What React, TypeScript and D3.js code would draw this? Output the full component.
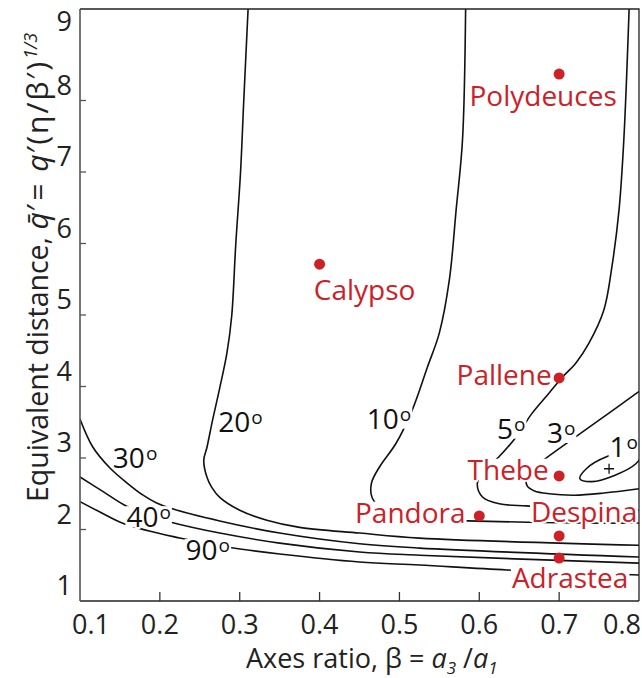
import { useEffect, useRef } from "react";
import * as d3 from "d3";

const WIDTH = 642;
const HEIGHT = 678;
const FONT = "'Open Sans', 'Noto Sans', sans-serif";
const RED = "#cd2027";

// Axis ticks
const xTickValues = [0.1, 0.2, 0.3, 0.4, 0.5, 0.6, 0.7, 0.8];
const yTickValues = [1, 2, 3, 4, 5, 6, 7, 8, 9];

// Satellites: axes ratio beta and equivalent distance q
const moonNames = ["Polydeuces", "Calypso", "Pallene", "Thebe", "Pandora", "Despina", "Adrastea"];
const moonBeta = [0.7, 0.4, 0.7, 0.7, 0.6, 0.7, 0.7];
const moonQ = [8.37, 5.71, 4.12, 2.75, 2.19, 1.91, 1.6];

// Contours of equal angle, as [beta, q] samples
const contour90: [number, number][] = [
  [0.1, 2.39], [0.125, 2.245], [0.156, 2.077], [0.225, 1.88], [0.284, 1.755],
  [0.35, 1.657], [0.45, 1.545], [0.525, 1.503], [0.635, 1.434], [0.8, 1.364],
];
const contour40: [number, number][] = [
  [0.1, 2.734], [0.129, 2.53], [0.156, 2.34], [0.184, 2.2], [0.2125, 2.105],
  [0.275, 1.95], [0.35, 1.81], [0.45, 1.685], [0.525, 1.64], [0.8, 1.53],
];
const contour30: [number, number][] = [
  [0.1, 3.545], [0.116, 3.154], [0.1375, 2.86], [0.159, 2.65], [0.179, 2.48],
  [0.196, 2.37], [0.2125, 2.3], [0.275, 2.12], [0.35, 1.95], [0.45, 1.8],
  [0.525, 1.74], [0.8, 1.615],
];
const contour20: [number, number][] = [
  [0.311, 9.4], [0.305, 7.98], [0.301, 6.99], [0.295, 5.98], [0.29, 4.99],
  [0.284, 4.47], [0.275, 3.98], [0.266, 3.53], [0.259, 3.15], [0.255, 2.97],
  [0.259, 2.73], [0.265, 2.59], [0.275, 2.45], [0.3, 2.27], [0.334, 2.13],
  [0.375, 2.03], [0.45, 1.95], [0.525, 1.88], [0.8, 1.78],
];
const contour10: [number, number][] = [
  [0.583, 9.4], [0.579, 7.45], [0.571, 6.47], [0.5625, 5.49], [0.55, 4.75],
  [0.535, 4.27], [0.516, 3.67], [0.496, 3.21], [0.475, 2.874], [0.465, 2.65],
  [0.466, 2.44], [0.481, 2.27], [0.5125, 2.175], [0.55, 2.13], [0.586, 2.12],
  [0.721, 2.09], [0.8, 2.09],
];
const contour5: [number, number][] = [
  [0.788, 9.4], [0.781, 7.45], [0.775, 6.47], [0.766, 5.67], [0.756, 5.07],
  [0.7375, 4.61], [0.721, 4.33], [0.704, 4.13], [0.6875, 3.91], [0.665, 3.61],
  [0.65, 3.35], [0.624, 3.01], [0.606, 2.83], [0.5975, 2.64], [0.604, 2.455],
  [0.625, 2.36], [0.659, 2.33], [0.725, 2.3], [0.8, 2.27],
];
const contour3: [number, number][] = [
  [0.806, 3.98], [0.7975, 3.91], [0.75, 3.53], [0.7, 3.13], [0.685, 3.01],
  [0.6675, 2.86], [0.659, 2.72], [0.66, 2.61], [0.669, 2.54], [0.6875, 2.5],
  [0.719, 2.48], [0.756, 2.51], [0.8, 2.57],
];
const contour1: [number, number][] = [
  [0.804, 3.07], [0.796, 2.92], [0.77, 2.76], [0.741, 2.67],
  [0.726, 2.71], [0.734, 2.85], [0.76, 3.02], [0.79, 3.1],
];
const minimumPoint: [number, number] = [0.7625, 2.85];

// Contour annotations: angle text and where it sits
const contourLabelText = ["30", "40", "90", "20", "10", "5", "3", "1"];
const contourLabelBeta = [0.169, 0.186, 0.26, 0.301, 0.487, 0.64, 0.7025, 0.781];
const contourLabelQ = [3.0, 2.17, 1.71, 3.5, 3.55, 3.41, 3.35, 3.15];

// Placement of satellite names relative to their dots (px): [dx of text centre, dy of baseline]
const moonLabelPlacement: [number, number][] = [
  [-16, 32], [45, 36], [-55, 7], [-51, 4], [-69, 7], [25, -14], [11, 30],
];

export default function App() {
  const ref = useRef<SVGSVGElement>(null);

  useEffect(() => {
    const svg = d3.select(ref.current);
    svg.selectAll("*").remove();

    const left = 80;
    const right = 639;
    const bottom = 601;
    const top = 9;

    const x = d3.scaleLinear().domain([0.1, 0.8]).range([left, right]);
    const y = d3.scaleLinear().domain([1, 9]).range([bottom, 29]);

    svg.append("rect").attr("width", WIDTH).attr("height", HEIGHT).attr("fill", "#fff");

    const defs = svg.append("defs");
    defs.append("clipPath").attr("id", "plot-clip")
      .append("rect").attr("x", left).attr("y", top)
      .attr("width", right - left).attr("height", bottom - top);

    // Contour lines
    const line = d3.line<[number, number]>()
      .x((d) => x(d[0])).y((d) => y(d[1]))
      .curve(d3.curveCatmullRom.alpha(0.5));
    const closed = d3.line<[number, number]>()
      .x((d) => x(d[0])).y((d) => y(d[1]))
      .curve(d3.curveCatmullRomClosed.alpha(0.5));

    const contours = svg.append("g").attr("clip-path", "url(#plot-clip)")
      .attr("fill", "none").attr("stroke", "#111").attr("stroke-width", 1.6);
    [contour90, contour40, contour30, contour20, contour10, contour5, contour3].forEach((c) => {
      contours.append("path").attr("d", line(c));
    });
    contours.append("path").attr("d", closed(contour1));

    // minimum marker
    const [mx, my] = [x(minimumPoint[0]), y(minimumPoint[1])];
    contours.append("path")
      .attr("d", `M${mx - 5},${my}H${mx + 5}M${mx},${my - 5}V${my + 5}`)
      .attr("stroke-width", 1.3);

    // Text with a white knock-out behind the cap height, plus a white halo
    const knockedText = (
      g: d3.Selection<SVGGElement, unknown, null, undefined>,
      cx: number, baseline: number, fs: number, fill: string,
      build: (t: d3.Selection<SVGTextElement, unknown, null, undefined>) => void,
    ) => {
      const rect = g.append("rect").attr("fill", "#fff");
      const t = g.append("text")
        .attr("x", cx).attr("y", baseline)
        .attr("text-anchor", "middle")
        .attr("font-family", FONT).attr("font-size", fs)
        .attr("fill", fill)
        .attr("stroke", "#fff").attr("stroke-width", 4)
        .attr("paint-order", "stroke").attr("stroke-linejoin", "round");
      build(t);
      const bb = (t.node() as SVGTextElement).getBBox();
      const cap = fs * 0.72;
      rect.attr("x", bb.x - 1).attr("width", bb.width + 2)
        .attr("y", baseline - cap - 1).attr("height", cap + 1);
    };

    // Contour labels
    const cl = svg.append("g");
    contourLabelText.forEach((txt, i) => {
      const cx = x(contourLabelBeta[i]);
      const cy = y(contourLabelQ[i]);
      knockedText(cl.append("g"), cx, cy + 10, 28, "#111", (t) => {
        t.append("tspan").text(txt);
        t.append("tspan").attr("font-size", 19).attr("dx", 1).attr("dy", -8).text("o");
      });
    });

    // Satellite labels
    const ml = svg.append("g");
    moonNames.forEach((name, i) => {
      const px = x(moonBeta[i]);
      const py = y(moonQ[i]);
      const [dx, dy] = moonLabelPlacement[i];
      knockedText(ml.append("g"), px + dx, py + dy, 28, RED, (t) => {
        t.text(name);
      });
    });

    // Satellite dots
    svg.append("g").selectAll("circle")
      .data(moonNames.map((_, i) => i))
      .join("circle")
      .attr("cx", (i) => x(moonBeta[i]))
      .attr("cy", (i) => y(moonQ[i]))
      .attr("r", 5.5)
      .attr("fill", RED);

    // Frame
    svg.append("path")
      .attr("d", `M${left},${top}H${right}V${bottom}`)
      .attr("fill", "none").attr("stroke", "#222").attr("stroke-width", 1.3);
    svg.append("line")
      .attr("x1", left).attr("x2", right).attr("y1", bottom).attr("y2", bottom)
      .attr("stroke", "#222").attr("stroke-width", 1.5);
    svg.append("line")
      .attr("x1", left).attr("x2", left).attr("y1", top).attr("y2", bottom)
      .attr("stroke", "#555").attr("stroke-width", 1.6);

    // X axis ticks and labels
    const xa = svg.append("g").attr("font-family", FONT).attr("font-size", 27).attr("fill", "#222");
    xTickValues.forEach((v, i) => {
      const px = x(v);
      if (i > 0 && i < xTickValues.length - 1) {
        xa.append("line").attr("x1", px).attr("x2", px)
          .attr("y1", bottom).attr("y2", bottom - 9)
          .attr("stroke", "#333").attr("stroke-width", 1.3);
      }
      const anchor = i === 0 ? "start" : i === xTickValues.length - 1 ? "end" : "middle";
      const tx = i === 0 ? px - 8 : i === xTickValues.length - 1 ? px + 2 : px;
      xa.append("text").attr("x", tx).attr("y", 634)
        .attr("text-anchor", anchor).text(d3.format(".1f")(v));
    });

    // Y axis ticks and labels
    const ya = svg.append("g").attr("font-family", FONT).attr("font-size", 27).attr("fill", "#222");
    yTickValues.forEach((v) => {
      const py = y(v);
      if (v > 1 && v < 9) {
        ya.append("line").attr("x1", left).attr("x2", left + 6)
          .attr("y1", py).attr("y2", py)
          .attr("stroke", "#555").attr("stroke-width", 1.3);
      }
      ya.append("text").attr("x", 72).attr("y", Math.max(py - 6, 31))
        .attr("text-anchor", "end").text(String(v));
    });

    // X axis title
    const xt = svg.append("text")
      .attr("x", 246).attr("y", 668)
      .attr("font-family", FONT).attr("font-size", 27).attr("fill", "#222");
    xt.append("tspan").text("Axes ratio,  \u03B2 = ");
    xt.append("tspan").attr("font-style", "italic").text("a");
    xt.append("tspan").attr("font-style", "italic").attr("font-size", 17).attr("dy", 6).text("3");
    xt.append("tspan").attr("dy", -6).text(" /");
    xt.append("tspan").attr("font-style", "italic").text("a");
    xt.append("tspan").attr("font-style", "italic").attr("font-size", 17).attr("dy", 6).text("1");

    // Y axis title
    const yt = svg.append("text")
      .attr("transform", "translate(48,502) rotate(-90)")
      .attr("font-family", FONT).attr("font-size", 28.5).attr("fill", "#222");
    yt.append("tspan").text("Equivalent distance, ");
    const formula = yt.append("tspan").attr("font-size", 30);
    formula.append("tspan").attr("font-style", "italic").text("q\u0304\u2032");
    formula.append("tspan").attr("dx", 5).text("=");
    formula.append("tspan").attr("dx", 12).attr("font-style", "italic").text("q\u2032");
    formula.append("tspan").attr("dx", 3).attr("letter-spacing", 2).text("(\u03B7/\u03B2\u2032)");
    formula.append("tspan").attr("font-style", "italic").attr("font-size", 18)
      .attr("dx", 1).attr("dy", -11).text("1/3");
  }, []);

  return (
    <svg
      ref={ref}
      width={WIDTH}
      height={HEIGHT}
      style={{ position: "absolute", left: 0, top: 0, display: "block" }}
    />
  );
}
